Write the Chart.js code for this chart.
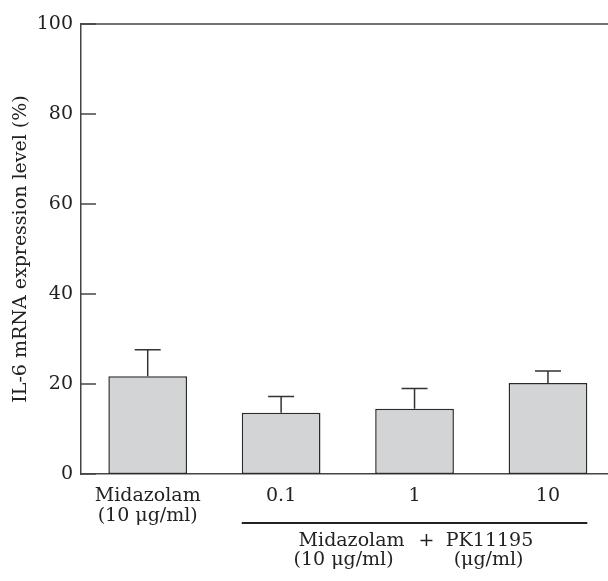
<!DOCTYPE html>
<html>
<head>
<meta charset="utf-8">
<script src="https://cdn.jsdelivr.net/npm/chart.js@4.4.1/dist/chart.umd.min.js"></script>
<style>
  html, body { margin: 0; padding: 0; background: #fff; }
  #wrap { width: 608px; height: 581px; position: relative; }
</style>
</head>
<body>
<div id="wrap"><canvas id="chart"></canvas></div>
<script>
// values
const categories = [["Midazolam", "(10 μg/ml)"], "0.1", "1", "10"];
const expression = [21.7, 13.6, 14.5, 20.2];
const errors = [5.9, 3.6, 4.5, 2.7];
const yTicks = [0, 20, 40, 60, 80, 100];
const groupCaption = ["Midazolam", "+", "PK11195"];
const groupUnits = ["(10 μg/ml)", "(μg/ml)"];

const ink = "#222";
const axisColor = "#444";
const font = { family: "DejaVu Serif", size: 19 };

// error bars, inward y ticks, top frame line, group bracket + caption
const extras = {
  id: "extras",
  afterDatasetsDraw(chart) {
    const { ctx, chartArea, scales } = chart;
    const meta = chart.getDatasetMeta(0);
    ctx.save();
    ctx.strokeStyle = "#333";
    ctx.lineWidth = 1.5;
    meta.data.forEach((bar, i) => {
      const yTop = scales.y.getPixelForValue(expression[i] + errors[i]);
      ctx.beginPath();
      ctx.moveTo(bar.x, bar.y);
      ctx.lineTo(bar.x, yTop);
      ctx.moveTo(bar.x - 13, yTop);
      ctx.lineTo(bar.x + 13, yTop);
      ctx.stroke();
    });

    ctx.strokeStyle = axisColor;
    yTicks.forEach((t) => {
      const y = scales.y.getPixelForValue(t);
      ctx.beginPath();
      ctx.moveTo(chartArea.left, y);
      ctx.lineTo(chartArea.left + 15, y);
      ctx.stroke();
    });
    ctx.beginPath();
    ctx.moveTo(chartArea.left, chartArea.top);
    ctx.lineTo(chartArea.right, chartArea.top);
    ctx.stroke();
    ctx.restore();
  },
  afterDraw(chart) {
    const { ctx, chartArea } = chart;
    const bars = chart.getDatasetMeta(0).data;
    const x0 = bars[1].x - bars[1].width / 2;
    const x1 = bars[3].x + bars[3].width / 2;
    const yLine = chartArea.bottom + 49;
    ctx.save();
    ctx.strokeStyle = ink;
    ctx.lineWidth = 2;
    ctx.beginPath();
    ctx.moveTo(x0, yLine);
    ctx.lineTo(x1, yLine);
    ctx.stroke();

    const plusX = (x0 + x1) / 2 + 12;
    ctx.fillStyle = ink;
    ctx.font = `${font.size}px "${font.family}"`;
    ctx.textAlign = "center";
    ctx.textBaseline = "alphabetic";
    const b1 = chartArea.bottom + 72;
    const b2 = chartArea.bottom + 91;
    ctx.fillText(groupCaption[0], plusX - 75, b1);
    ctx.fillText(groupCaption[1], plusX, b1);
    ctx.fillText(groupCaption[2], plusX + 63, b1);
    ctx.fillText(groupUnits[0], plusX - 83, b2);
    ctx.fillText(groupUnits[1], plusX + 62, b2);
    ctx.restore();
  }
};

new Chart(document.getElementById("chart"), {
  type: "bar",
  data: {
    datasets: [{
      data: expression.map((v, i) => ({ x: i, y: v })),
      backgroundColor: "#d3d4d5",
      borderColor: "#2b2b2b",
      borderWidth: 1.5,
      borderSkipped: false,
      barPercentage: 0.59,
      categoryPercentage: 1
    }]
  },
  options: {
    responsive: true,
    maintainAspectRatio: false,
    animation: false,
    layout: { padding: { top: 24, right: 0, bottom: 0, left: 0 } },
    plugins: { legend: { display: false }, tooltip: { enabled: false } },
    scales: {
      x: {
        type: "linear",
        offset: false,
        min: -0.5,
        max: 3.45,
        afterFit: (scale) => { scale.height = 107; },
        afterBuildTicks: (scale) => { scale.ticks = categories.map((c, i) => ({ value: i })); },
        grid: { display: false, drawTicks: false },
        border: { display: true, color: axisColor, width: 1.5 },
        ticks: {
          callback: (v) => categories[v],
          color: ink,
          font: { ...font, lineHeight: 1.05 },
          padding: 12,
          maxRotation: 0,
          autoSkip: false
        }
      },
      y: {
        min: 0,
        max: 100,
        afterFit: (scale) => { scale.width = 81; },
        grid: { display: false, drawTicks: false },
        border: { display: true, color: axisColor, width: 1.5 },
        ticks: { stepSize: 20, color: ink, font: font, padding: 8 },
        title: {
          display: true,
          text: "IL-6 mRNA expression level (%)",
          color: ink,
          font: font,
          padding: { top: 10, bottom: 0 }
        }
      }
    }
  },
  plugins: [extras]
});
</script>
</body>
</html>
